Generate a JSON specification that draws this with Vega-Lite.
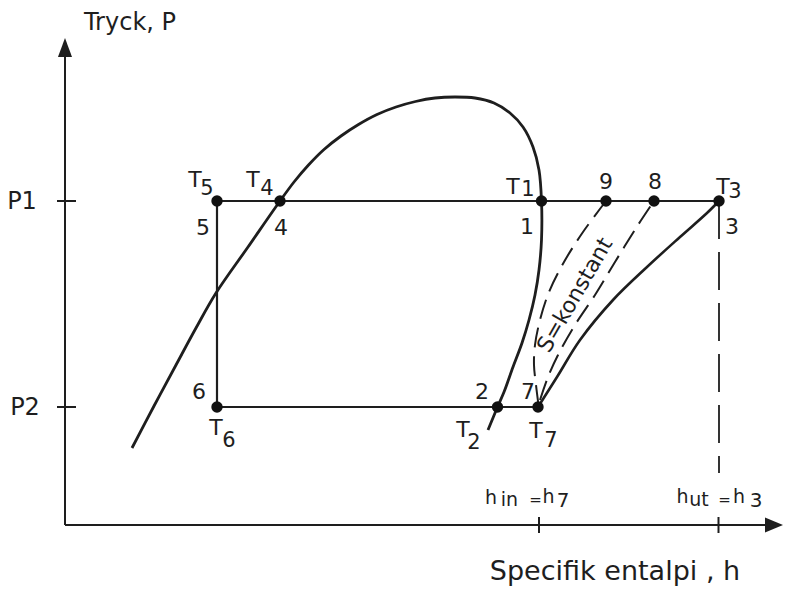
{
  "$schema": "https://vega.github.io/schema/vega-lite/v6.json",
  "width": 785,
  "height": 590,
  "autosize": {"type": "fit", "contains": "padding"},
  "padding": 0,
  "background": "#ffffff",
  "config": {
    "view": {"stroke": null},
    "text": {"font": "DejaVu Sans", "color": "#1e1e1e", "align": "center", "baseline": "middle"}
  },
  "datasets": {
    "dome": [
      {"i": 1, "h": 13.4, "P": 15.2}, {"i": 2, "h": 17.8, "P": 23.6}, {"i": 3, "h": 22.2, "P": 31.8},
      {"i": 4, "h": 26.2, "P": 39.2}, {"i": 5, "h": 30.2, "P": 46.2}, {"i": 6, "h": 36.6, "P": 55.4},
      {"i": 7, "h": 43.0, "P": 64.6}, {"i": 8, "h": 45.8, "P": 68.4}, {"i": 9, "h": 48.7, "P": 71.8},
      {"i": 10, "h": 51.8, "P": 74.9}, {"i": 11, "h": 55.2, "P": 77.6}, {"i": 12, "h": 58.7, "P": 79.9},
      {"i": 13, "h": 62.4, "P": 81.9}, {"i": 14, "h": 66.2, "P": 83.4}, {"i": 15, "h": 70.1, "P": 84.5},
      {"i": 16, "h": 74.0, "P": 85.2}, {"i": 17, "h": 78.0, "P": 85.4}, {"i": 18, "h": 82.0, "P": 85.2},
      {"i": 19, "h": 85.8, "P": 84.2}, {"i": 20, "h": 89.0, "P": 82.2}, {"i": 21, "h": 91.6, "P": 79.4},
      {"i": 22, "h": 93.6, "P": 75.4}, {"i": 23, "h": 94.8, "P": 70.8}, {"i": 24, "h": 95.3, "P": 64.6},
      {"i": 25, "h": 95.3, "P": 56.8}, {"i": 26, "h": 94.8, "P": 50.8}, {"i": 27, "h": 94.0, "P": 45.8},
      {"i": 28, "h": 92.8, "P": 40.8}, {"i": 29, "h": 91.4, "P": 36.2}, {"i": 30, "h": 89.6, "P": 31.4},
      {"i": 31, "h": 87.8, "P": 26.4}, {"i": 32, "h": 86.5, "P": 23.4}, {"i": 33, "h": 84.6, "P": 18.8}
    ],
    "cycle": [
      {"i": 1, "h": 130.8, "P": 64.6}, {"i": 2, "h": 30.4, "P": 64.6},
      {"i": 3, "h": 30.4, "P": 23.4}, {"i": 4, "h": 94.6, "P": 23.4}
    ],
    "compression": [
      {"i": 1, "h": 94.6, "P": 23.4}, {"i": 2, "h": 98.4, "P": 29.4}, {"i": 3, "h": 103.0, "P": 36.8},
      {"i": 4, "h": 109.6, "P": 44.8}, {"i": 5, "h": 116.4, "P": 51.4}, {"i": 6, "h": 123.0, "P": 57.4},
      {"i": 7, "h": 128.4, "P": 62.2}, {"i": 8, "h": 130.8, "P": 64.6}
    ],
    "isentropes": [
      {"line": "to9", "i": 1, "h": 94.7, "P": 23.8}, {"line": "to9", "i": 2, "h": 94.2, "P": 27.8},
      {"line": "to9", "i": 3, "h": 93.8, "P": 31.8}, {"line": "to9", "i": 4, "h": 94.0, "P": 35.8},
      {"line": "to9", "i": 5, "h": 95.0, "P": 40.8}, {"line": "to9", "i": 6, "h": 96.8, "P": 46.4},
      {"line": "to9", "i": 7, "h": 99.8, "P": 52.4}, {"line": "to9", "i": 8, "h": 103.6, "P": 58.4},
      {"line": "to9", "i": 9, "h": 108.2, "P": 64.6},
      {"line": "to8", "i": 1, "h": 95.0, "P": 24.8}, {"line": "to8", "i": 2, "h": 96.6, "P": 29.4},
      {"line": "to8", "i": 3, "h": 98.6, "P": 33.8}, {"line": "to8", "i": 4, "h": 102.0, "P": 39.8},
      {"line": "to8", "i": 5, "h": 106.0, "P": 45.8}, {"line": "to8", "i": 6, "h": 110.0, "P": 52.4},
      {"line": "to8", "i": 7, "h": 114.6, "P": 59.8}, {"line": "to8", "i": 8, "h": 117.8, "P": 64.6}
    ],
    "frame": [
      {"part": "P axis", "h": 0, "P": -0.2, "h_end": 0, "P_end": 93.5},
      {"part": "h axis", "h": 0, "P": -0.2, "h_end": 140.5, "P_end": -0.2},
      {"part": "P1 tick", "h": -1.6, "P": 64.6, "h_end": 2.2, "P_end": 64.6},
      {"part": "P2 tick", "h": -1.6, "P": 23.4, "h_end": 2.2, "P_end": 23.4},
      {"part": "h_in tick", "h": 94.8, "P": 1.4, "h_end": 94.8, "P_end": -1.8},
      {"part": "h_ut tick", "h": 130.7, "P": 1.4, "h_end": 130.7, "P_end": -1.8}
    ],
    "states": [
      {"state": "5", "h": 30.4, "P": 64.6}, {"state": "4", "h": 43.0, "P": 64.6},
      {"state": "1", "h": 95.3, "P": 64.6}, {"state": "9", "h": 108.2, "P": 64.6},
      {"state": "8", "h": 117.8, "P": 64.6}, {"state": "3", "h": 130.8, "P": 64.6},
      {"state": "6", "h": 30.4, "P": 23.4}, {"state": "2", "h": 86.5, "P": 23.4},
      {"state": "7", "h": 94.6, "P": 23.4}
    ],
    "labels": [
      {"text": "5", "h": 27.6, "P": 59.2},
      {"text": "4", "h": 43.2, "P": 59.2},
      {"text": "1", "h": 92.4, "P": 59.4},
      {"text": "9", "h": 108.2, "P": 68.4},
      {"text": "8", "h": 118.0, "P": 68.4},
      {"text": "3", "h": 133.4, "P": 59.4},
      {"text": "6", "h": 26.8, "P": 26.4},
      {"text": "2", "h": 83.4, "P": 26.4},
      {"text": "7", "h": 92.6, "P": 26.4},
      {"text": "T", "h": 26.0, "P": 68.8},
      {"text": "T", "h": 37.6, "P": 68.8},
      {"text": "T", "h": 89.6, "P": 67.4},
      {"text": "T", "h": 131.6, "P": 67.4},
      {"text": "T", "h": 79.6, "P": 18.8},
      {"text": "T", "h": 94.2, "P": 18.6},
      {"text": "T", "h": 30.2, "P": 19.2}
    ],
    "titles": [
      {"text": "Tryck, P", "h": 13.0, "P": 100.2},
      {"text": "P1", "h": -8.6, "P": 64.4},
      {"text": "P2", "h": -8.0, "P": 23.2}
    ],
    "subscripts": [
      {"text": "5", "h": 28.4, "P": 67.0},
      {"text": "4", "h": 40.4, "P": 67.0},
      {"text": "1", "h": 92.6, "P": 66.8},
      {"text": "3", "h": 134.0, "P": 66.4},
      {"text": "2", "h": 81.8, "P": 16.2},
      {"text": "7", "h": 97.2, "P": 16.6},
      {"text": "6", "h": 32.8, "P": 16.6}
    ],
    "enthalpy": [
      {"text": "h", "h": 85.2, "P": 5.3},
      {"text": "h", "h": 96.7, "P": 5.5},
      {"text": "h", "h": 123.5, "P": 5.5},
      {"text": "h", "h": 134.8, "P": 5.5},
      {"text": "in", "h": 88.9, "P": 4.8},
      {"text": "ut", "h": 126.8, "P": 4.8}
    ],
    "enthalpySubs": [
      {"text": "7", "h": 99.6, "P": 4.6},
      {"text": "3", "h": 138.2, "P": 4.6}
    ],
    "equals": [
      {"text": "=", "h": 94.1, "P": 4.8},
      {"text": "=", "h": 131.9, "P": 4.8}
    ]
  },
  "encoding": {
    "x": {"field": "h", "type": "quantitative", "axis": null, "scale": {"domain": [-13, 144], "nice": false, "zero": false}},
    "y": {"field": "P", "type": "quantitative", "axis": null, "scale": {"domain": [-13.2, 104.8], "nice": false, "zero": false}}
  },
  "layer": [
    {
      "data": {"name": "frame"},
      "mark": {"type": "rule", "color": "#1e1e1e", "strokeWidth": 2},
      "encoding": {"x2": {"field": "h_end"}, "y2": {"field": "P_end"}}
    },
    {
      "data": {"values": [{"h": 0, "P": 95.3}]},
      "mark": {"type": "point", "filled": true, "opacity": 1, "color": "#1e1e1e", "size": 361, "shape": "M0,-1L0.74,1L-0.74,1Z"}
    },
    {
      "data": {"values": [{"h": 141.8, "P": -0.2}]},
      "mark": {"type": "point", "filled": true, "opacity": 1, "color": "#1e1e1e", "size": 324, "shape": "M1,0L-1,-0.83L-1,0.83Z"}
    },
    {
      "data": {"values": [{"h": 130.8, "P": 64.6, "P_end": 10.2}]},
      "mark": {"type": "rule", "color": "#1e1e1e", "strokeWidth": 1.8, "strokeDash": [38, 13]},
      "encoding": {"y2": {"field": "P_end"}}
    },
    {
      "data": {"name": "dome"},
      "mark": {"type": "line", "color": "#1e1e1e", "strokeWidth": 2.8, "interpolate": "catmull-rom"},
      "encoding": {"order": {"field": "i", "type": "quantitative"}}
    },
    {
      "data": {"name": "cycle"},
      "mark": {"type": "line", "color": "#1e1e1e", "strokeWidth": 2.2},
      "encoding": {"order": {"field": "i", "type": "quantitative"}}
    },
    {
      "data": {"name": "compression"},
      "mark": {"type": "line", "color": "#1e1e1e", "strokeWidth": 2.6, "interpolate": "catmull-rom"},
      "encoding": {"order": {"field": "i", "type": "quantitative"}}
    },
    {
      "data": {"name": "isentropes"},
      "mark": {"type": "line", "color": "#1e1e1e", "strokeWidth": 2, "strokeDash": [20, 9], "interpolate": "catmull-rom"},
      "encoding": {"detail": {"field": "line"}, "order": {"field": "i", "type": "quantitative"}}
    },
    {
      "data": {"name": "states"},
      "mark": {"type": "circle", "color": "#111111", "opacity": 1, "size": 130}
    },
    {
      "data": {"name": "labels"},
      "mark": {"type": "text", "fontSize": 22},
      "encoding": {"text": {"field": "text"}}
    },
    {
      "data": {"name": "titles"},
      "mark": {"type": "text", "fontSize": 24},
      "encoding": {"text": {"field": "text"}}
    },
    {
      "data": {"name": "subscripts"},
      "mark": {"type": "text", "fontSize": 21},
      "encoding": {"text": {"field": "text"}}
    },
    {
      "data": {"name": "enthalpy"},
      "mark": {"type": "text", "fontSize": 19},
      "encoding": {"text": {"field": "text"}}
    },
    {
      "data": {"name": "enthalpySubs"},
      "mark": {"type": "text", "fontSize": 20},
      "encoding": {"text": {"field": "text"}}
    },
    {
      "data": {"name": "equals"},
      "mark": {"type": "text", "fontSize": 15},
      "encoding": {"text": {"field": "text"}}
    },
    {
      "data": {"values": [{"text": "Specifik entalpi , h", "h": 110.0, "P": -9.6}]},
      "mark": {"type": "text", "fontSize": 27},
      "encoding": {"text": {"field": "text"}}
    },
    {
      "data": {"values": [{"text": "S=konstant", "h": 102.0, "P": 45.8}]},
      "mark": {"type": "text", "fontSize": 22, "angle": -60},
      "encoding": {"text": {"field": "text"}}
    }
  ]
}
